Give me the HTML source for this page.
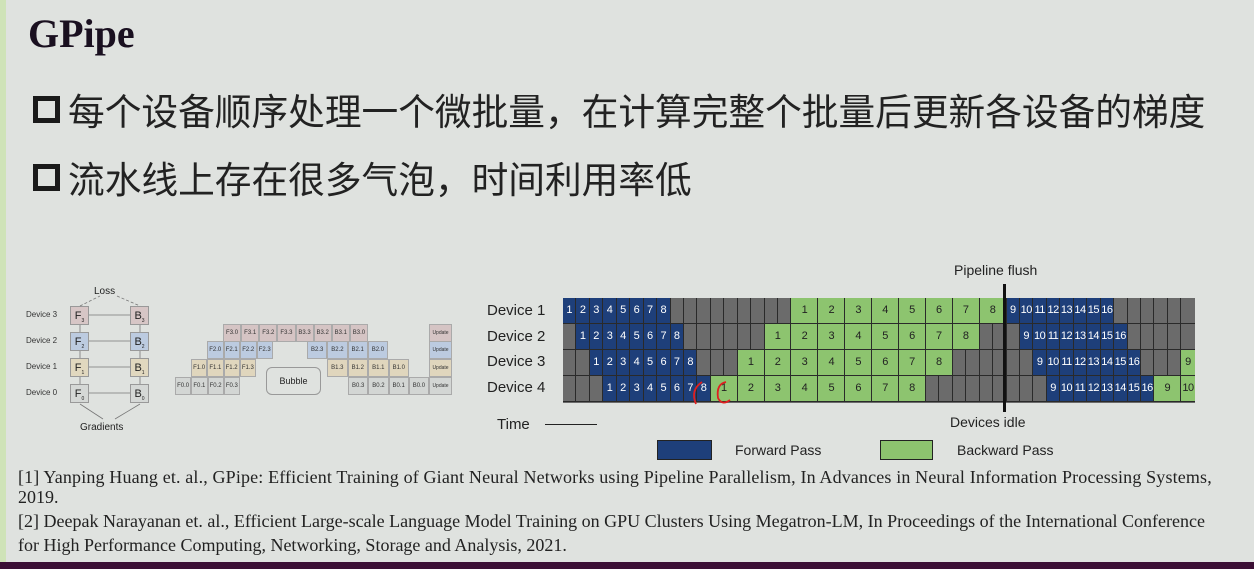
<!DOCTYPE html>
<html><head><meta charset="utf-8"><style>
*{margin:0;padding:0;box-sizing:border-box}
body{width:1254px;height:569px;overflow:hidden;background:#dfe2df;position:relative;font-family:"Liberation Sans","Noto Sans CJK SC",sans-serif;color:#222}
.a{position:absolute}
.row{position:absolute;left:563px;display:flex;height:26px}
.row span{display:block;height:26px;border-right:1px solid #2a2a2a;border-bottom:1px solid #2a2a2a;font-size:11px;line-height:25px;text-align:center;color:#fff;font-family:"Liberation Sans",sans-serif;letter-spacing:-0.5px;white-space:nowrap;overflow:visible}
.b{background:#1e3f7a;width:13.45px}
.k{background:#6b6b6b;width:13.45px}
.g{background:#8dc46f;color:#222!important;width:26.9px}
.g1{background:#8dc46f;color:#222!important;width:13.45px}
.row .bn{border-right:none}
.ref{font-family:"Liberation Serif",serif;font-size:18px;color:#222;left:18px;white-space:nowrap;line-height:20px}
.bul{font-size:36.7px;color:#222;left:33px;display:flex;align-items:center;white-space:nowrap}
.bul i{display:inline-block;width:27px;height:27px;border:5px solid #1a1a1a;margin-right:8px}
.dl{font-size:8px;color:#333;left:26px}
.bx{position:absolute;width:19px;height:19px;border:1px solid #999;font-size:11px;text-align:center;line-height:18px}
.cr{position:absolute;display:flex;height:18px}
.cr span{display:block;height:18px;border:1px solid #aaa;font-size:6px;text-align:center;line-height:16px;color:#333;flex:1}
</style></head><body>
<div class="a" style="left:0;top:0;width:6px;height:562px;background:#cfe3b8"></div>
<div class="a" style="left:0;top:562px;width:1254px;height:7px;background:#3b0f35"></div>
<div class="a" style="left:28px;top:10px;font-family:'Liberation Serif',serif;font-weight:bold;font-size:40px;color:#1a1020">GPipe</div>
<div class="a bul" style="top:82px"><i></i>每个设备顺序处理一个微批量，在计算完整个批量后更新各设备的梯度</div>
<div class="a bul" style="top:150px"><i></i>流水线上存在很多气泡，时间利用率低</div>

<!-- left diagram -->
<div class="a" style="left:94px;top:286px;font-size:10px">Loss</div>
<div class="a dl" style="top:310px">Device 3</div>
<div class="a dl" style="top:336px">Device 2</div>
<div class="a dl" style="top:362px">Device 1</div>
<div class="a dl" style="top:388px">Device 0</div>
<div class="bx" style="left:70px;top:306px;background:#d7c6c6">F<sub style="font-size:5px">3</sub></div>
<div class="bx" style="left:130px;top:306px;background:#d7c6c6">B<sub style="font-size:5px">3</sub></div>
<div class="bx" style="left:70px;top:332px;background:#bccbe0">F<sub style="font-size:5px">2</sub></div>
<div class="bx" style="left:130px;top:332px;background:#bccbe0">B<sub style="font-size:5px">2</sub></div>
<div class="bx" style="left:70px;top:358px;background:#e1d8bf">F<sub style="font-size:5px">1</sub></div>
<div class="bx" style="left:130px;top:358px;background:#e1d8bf">B<sub style="font-size:5px">1</sub></div>
<div class="bx" style="left:70px;top:384px;background:#d5d8d6">F<sub style="font-size:5px">0</sub></div>
<div class="bx" style="left:130px;top:384px;background:#d5d8d6">B<sub style="font-size:5px">0</sub></div>
<svg class="a" style="left:0;top:0" width="480" height="440">
<g stroke="#777" stroke-width="0.8" fill="none">
<line x1="89" y1="315" x2="130" y2="315"/><line x1="89" y1="341" x2="130" y2="341"/><line x1="89" y1="367" x2="130" y2="367"/><line x1="89" y1="393" x2="130" y2="393"/>
<line x1="80" y1="384" x2="80" y2="377"/><line x1="80" y1="358" x2="80" y2="351"/><line x1="80" y1="332" x2="80" y2="325"/>
<line x1="140" y1="325" x2="140" y2="332"/><line x1="140" y1="351" x2="140" y2="358"/><line x1="140" y1="377" x2="140" y2="384"/>
<line x1="80" y1="306" x2="100" y2="296" stroke-dasharray="3,2"/><line x1="117" y1="296" x2="140" y2="306" stroke-dasharray="3,2"/>
<line x1="103" y1="419" x2="80" y2="404"/><line x1="115" y1="419" x2="140" y2="404"/>
</g></svg>
<div class="a" style="left:80px;top:422px;font-size:10px">Gradients</div>

<!-- bubble diagram -->
<div class="cr" style="left:223px;top:324px;width:145px;background:#d5c4c4"><span>F3.0</span><span>F3.1</span><span>F3.2</span><span>F3.3</span><span>B3.3</span><span>B3.2</span><span>B3.1</span><span>B3.0</span></div>
<div class="cr" style="left:207px;top:341px;width:66px;background:#bccbe0"><span>F2.0</span><span>F2.1</span><span>F2.2</span><span>F2.3</span></div>
<div class="cr" style="left:307px;top:341px;width:81px;background:#bccbe0"><span>B2.3</span><span>B2.2</span><span>B2.1</span><span>B2.0</span></div>
<div class="cr" style="left:191px;top:359px;width:65px;background:#e0d6bd"><span>F1.0</span><span>F1.1</span><span>F1.2</span><span>F1.3</span></div>
<div class="cr" style="left:327px;top:359px;width:82px;background:#e0d6bd"><span>B1.3</span><span>B1.2</span><span>B1.1</span><span>B1.0</span></div>
<div class="cr" style="left:175px;top:377px;width:65px;background:#d3d6d4"><span>F0.0</span><span>F0.1</span><span>F0.2</span><span>F0.3</span></div>
<div class="cr" style="left:348px;top:377px;width:81px;background:#d3d6d4"><span>B0.3</span><span>B0.2</span><span>B0.1</span><span>B0.0</span></div>
<div class="cr" style="left:429px;top:324px;width:23px;background:#d5c4c4"><span style="font-size:5px">Update</span></div>
<div class="cr" style="left:429px;top:341px;width:23px;background:#bccbe0"><span style="font-size:5px">Update</span></div>
<div class="cr" style="left:429px;top:359px;width:23px;background:#e0d6bd"><span style="font-size:5px">Update</span></div>
<div class="cr" style="left:429px;top:377px;width:23px;background:#d3d6d4"><span style="font-size:5px">Update</span></div>
<div class="a" style="left:266px;top:367px;width:55px;height:28px;border:1px solid #999;border-radius:6px;font-size:9px;text-align:center;line-height:26px">Bubble</div>

<!-- pipeline chart -->
<div class="a" style="left:487px;top:302px;font-size:15px">Device 1</div>
<div class="a" style="left:487px;top:328px;font-size:15px">Device 2</div>
<div class="a" style="left:487px;top:353px;font-size:15px">Device 3</div>
<div class="a" style="left:487px;top:379px;font-size:15px">Device 4</div>
<div class="a" style="left:563px;top:298px;width:632px;height:105px;background:#6b6b6b;border-top:1px solid #2a2a2a"></div>
<div class="row" style="top:298px"><span class="b">1</span><span class="b">2</span><span class="b">3</span><span class="b">4</span><span class="b">5</span><span class="b">6</span><span class="b">7</span><span class="b">8</span><span class="k"></span><span class="k"></span><span class="k"></span><span class="k"></span><span class="k"></span><span class="k"></span><span class="k"></span><span class="k"></span><span class="k"></span><span class="g">1</span><span class="g">2</span><span class="g">3</span><span class="g">4</span><span class="g">5</span><span class="g">6</span><span class="g">7</span><span class="g">8</span><span class="b">9</span><span class="b">10</span><span class="b">11</span><span class="b">12</span><span class="b">13</span><span class="b">14</span><span class="b">15</span><span class="b">16</span><span class="k"></span><span class="k"></span><span class="k"></span><span class="k"></span><span class="k"></span><span class="k bn"></span></div>
<div class="row" style="top:324px"><span class="k"></span><span class="b">1</span><span class="b">2</span><span class="b">3</span><span class="b">4</span><span class="b">5</span><span class="b">6</span><span class="b">7</span><span class="b">8</span><span class="k"></span><span class="k"></span><span class="k"></span><span class="k"></span><span class="k"></span><span class="k"></span><span class="g">1</span><span class="g">2</span><span class="g">3</span><span class="g">4</span><span class="g">5</span><span class="g">6</span><span class="g">7</span><span class="g">8</span><span class="k"></span><span class="k"></span><span class="k"></span><span class="b">9</span><span class="b">10</span><span class="b">11</span><span class="b">12</span><span class="b">13</span><span class="b">14</span><span class="b">15</span><span class="b">16</span><span class="k"></span><span class="k"></span><span class="k"></span><span class="k"></span><span class="k bn"></span></div>
<div class="row" style="top:350px"><span class="k"></span><span class="k"></span><span class="b">1</span><span class="b">2</span><span class="b">3</span><span class="b">4</span><span class="b">5</span><span class="b">6</span><span class="b">7</span><span class="b">8</span><span class="k"></span><span class="k"></span><span class="k"></span><span class="g">1</span><span class="g">2</span><span class="g">3</span><span class="g">4</span><span class="g">5</span><span class="g">6</span><span class="g">7</span><span class="g">8</span><span class="k"></span><span class="k"></span><span class="k"></span><span class="k"></span><span class="k"></span><span class="k"></span><span class="b">9</span><span class="b">10</span><span class="b">11</span><span class="b">12</span><span class="b">13</span><span class="b">14</span><span class="b">15</span><span class="b">16</span><span class="k"></span><span class="k"></span><span class="k"></span><span class="g1 bn">9</span></div>
<div class="row" style="top:376px"><span class="k"></span><span class="k"></span><span class="k"></span><span class="b">1</span><span class="b">2</span><span class="b">3</span><span class="b">4</span><span class="b">5</span><span class="b">6</span><span class="b">7</span><span class="b">8</span><span class="g">1</span><span class="g">2</span><span class="g">3</span><span class="g">4</span><span class="g">5</span><span class="g">6</span><span class="g">7</span><span class="g">8</span><span class="k"></span><span class="k"></span><span class="k"></span><span class="k"></span><span class="k"></span><span class="k"></span><span class="k"></span><span class="k"></span><span class="k"></span><span class="b">9</span><span class="b">10</span><span class="b">11</span><span class="b">12</span><span class="b">13</span><span class="b">14</span><span class="b">15</span><span class="b">16</span><span class="g">9</span><span class="g1 bn">10</span></div>
<svg class="a" style="left:680px;top:376px" width="60" height="30"><g stroke="#e02020" stroke-width="1.8" fill="none"><path d="M22 6 Q10 14 16 28"/><path d="M46 6 Q36 8 38 22 Q42 30 50 24"/></g></svg>
<div class="a" style="left:1003px;top:284px;width:3px;height:128px;background:#111"></div>
<div class="a" style="left:954px;top:262px;font-size:14px">Pipeline flush</div>
<div class="a" style="left:950px;top:414px;font-size:14px">Devices idle</div>
<div class="a" style="left:497px;top:416px;font-size:15px">Time</div>
<div class="a" style="left:545px;top:424px;width:52px;height:1px;background:#222"></div>
<div class="a" style="left:657px;top:440px;width:55px;height:20px;background:#1e3f7a;border:1px solid #222"></div>
<div class="a" style="left:735px;top:442px;font-size:14px">Forward Pass</div>
<div class="a" style="left:880px;top:440px;width:53px;height:20px;background:#8dc46f;border:1px solid #222"></div>
<div class="a" style="left:957px;top:442px;font-size:14px">Backward Pass</div>

<div class="a ref" style="top:467px;letter-spacing:0.15px">[1] Yanping Huang et. al., GPipe: Efficient Training of Giant Neural Networks using Pipeline Parallelism, In Advances in Neural Information Processing Systems,</div>
<div class="a ref" style="top:487px">2019.</div>
<div class="a ref" style="top:511px;letter-spacing:0px">[2] Deepak Narayanan et. al., Efficient Large-scale Language Model Training on GPU Clusters Using Megatron-LM, In Proceedings of the International Conference</div>
<div class="a ref" style="top:535px">for High Performance Computing, Networking, Storage and Analysis, 2021.</div>
</body></html>
